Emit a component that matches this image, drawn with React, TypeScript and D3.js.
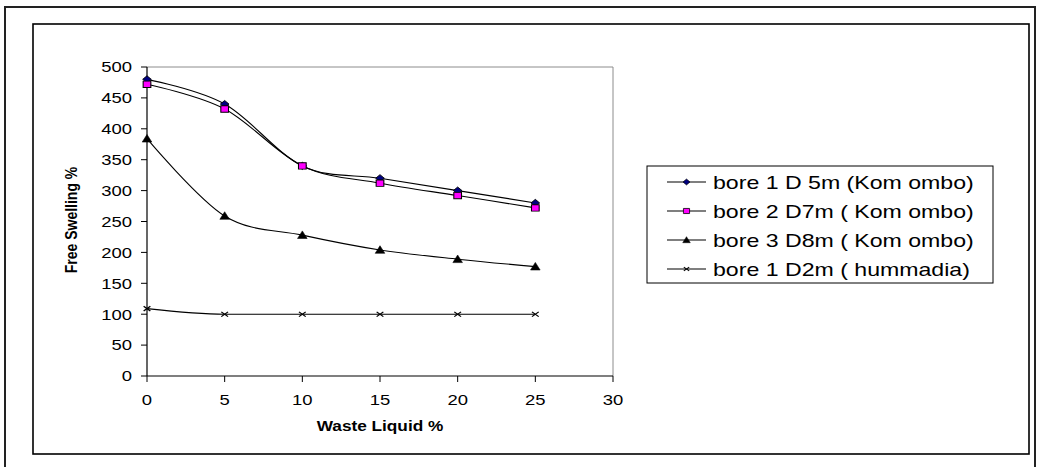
import React from 'react';
import * as d3 from 'd3';

const xValues = [0, 5, 10, 15, 20, 25];
const bore1D5m = [480, 440, 340, 320, 300, 280];
const bore2D7m = [472, 432, 340, 312, 292, 272];
const bore3D8m = [384, 259, 228, 204, 189, 177];
const bore1D2m = [109, 100, 100, 100, 100, 100];
const seriesNames = [
  'bore 1 D 5m (Kom ombo)',
  'bore 2 D7m ( Kom ombo)',
  'bore 3 D8m ( Kom ombo)',
  'bore 1 D2m ( hummadia)',
];
const xTicks = [0, 5, 10, 15, 20, 25, 30];
const yTicks = [0, 50, 100, 150, 200, 250, 300, 350, 400, 450, 500];
const xTitle = 'Waste Liquid %';
const yTitle = 'Free Swelling %';

const SX = 1.23;
const FONT = "'Liberation Sans', Arial, sans-serif";

const W = 1038;
const H = 467;
const plot = { left: 147, right: 613, top: 67, bottom: 376 };

function STxt({ x, y, size, bold, anchor, rotate, children }: any) {
  return (
    <text
      transform={`translate(${x},${y}) scale(${SX},1)${rotate ? ' rotate(-90)' : ''}`}
      fontFamily={FONT}
      fontSize={size}
      fontWeight={bold ? 'bold' : 'normal'}
      textAnchor={anchor || 'start'}
      fill="#000"
    >
      {children}
    </text>
  );
}

function Marker({ kind, x, y, s = 1 }: any) {
  const t = `translate(${x},${y}) scale(${1.2 * s},${s})`;
  if (kind === 'diamond')
    return <path transform={t} d="M0,-3.6 L3.6,0 L0,3.6 L-3.6,0Z" fill="#000080" stroke="#000" strokeWidth={0.8} />;
  if (kind === 'square')
    return <path transform={t} d="M-3.2,-3.2 H3.2 V3.2 H-3.2Z" fill="#FF00FF" stroke="#000" strokeWidth={0.9} />;
  if (kind === 'triangle')
    return <path transform={t} d="M0,-4.2 L4,3.4 L-4,3.4Z" fill="#000" stroke="#000" strokeWidth={0.5} />;
  return (
    <path transform={t} d="M-2.8,-2.4 L2.8,2.4 M-2.8,2.4 L2.8,-2.4" stroke="#000" strokeWidth={1.1} fill="none" />
  );
}

export default function App() {
  const x = d3.scaleLinear().domain([0, 30]).range([plot.left, plot.right]);
  const y = d3.scaleLinear().domain([0, 500]).range([plot.bottom, plot.top]);
  const series = [
    { name: seriesNames[0], values: bore1D5m, kind: 'diamond', curve: d3.curveCardinal.tension(0) },
    { name: seriesNames[1], values: bore2D7m, kind: 'square', curve: d3.curveCardinal.tension(0) },
    { name: seriesNames[2], values: bore3D8m, kind: 'triangle', curve: d3.curveCardinal.tension(0) },
    { name: seriesNames[3], values: bore1D2m, kind: 'x', curve: d3.curveMonotoneX },
  ];
  const makeLine = (curve: any) =>
    d3
      .line<number>()
      .x((_, i) => x(xValues[i]))
      .y((d) => y(d))
      .curve(curve);

  const legend = { x: 647, y: 166, w: 346, h: 117, rows: [182, 211, 240, 269] };

  return (
    <svg width={W} height={H} style={{ position: 'absolute', left: 0, top: 0, background: '#fff' }}>
      <rect x={0} y={0} width={W} height={H} fill="#fff" />
      <rect x={5} y={7} width={1030} height={475} fill="none" stroke="#222" strokeWidth={2} />
      <rect x={33} y={24} width={996} height={430} fill="none" stroke="#000" strokeWidth={1.6} />

      <path
        d={`M${plot.left},${plot.top} H${plot.right} V${plot.bottom}`}
        fill="none"
        stroke="#8c8c8c"
        strokeWidth={1}
      />
      <line x1={plot.left} x2={plot.left} y1={plot.top} y2={plot.bottom} stroke="#000" strokeWidth={1.2} />
      <line x1={plot.left} x2={plot.right} y1={plot.bottom} y2={plot.bottom} stroke="#000" strokeWidth={1.2} />
      {yTicks.map((t) => (
        <g key={'y' + t}>
          <line x1={plot.left - 6} x2={plot.left} y1={y(t)} y2={y(t)} stroke="#000" strokeWidth={1} />
          <STxt x={132} y={y(t) + 5.3} size={15} anchor="end">
            {t}
          </STxt>
        </g>
      ))}
      {xTicks.map((t) => (
        <g key={'x' + t}>
          <line x1={x(t)} x2={x(t)} y1={plot.bottom} y2={plot.bottom + 6} stroke="#000" strokeWidth={1} />
          <STxt x={x(t)} y={405} size={15} anchor="middle">
            {t}
          </STxt>
        </g>
      ))}
      <STxt x={380} y={431} size={14} bold anchor="middle">
        {xTitle}
      </STxt>
      <STxt x={77} y={220} size={14} bold anchor="middle" rotate>
        {yTitle}
      </STxt>

      {series.map((s) => (
        <path key={s.name + 'l'} d={makeLine(s.curve)(s.values) || ''} fill="none" stroke="#000" strokeWidth={1.1} />
      ))}
      {series.map((s) =>
        s.values.map((v, i) => <Marker key={s.name + i} kind={s.kind} x={x(xValues[i])} y={y(v)} />)
      )}

      <rect x={legend.x} y={legend.y} width={legend.w} height={legend.h} fill="#fff" stroke="#000" strokeWidth={1} />
      {series.map((s, i) => (
        <g key={s.name + 'leg'}>
          <line x1={667} x2={706} y1={legend.rows[i]} y2={legend.rows[i]} stroke="#000" strokeWidth={1.1} />
          <Marker kind={s.kind} x={686.5} y={legend.rows[i]} s={0.8} />
          <STxt x={713} y={legend.rows[i] + 6.6} size={18.8}>
            {s.name}
          </STxt>
        </g>
      ))}
    </svg>
  );
}
